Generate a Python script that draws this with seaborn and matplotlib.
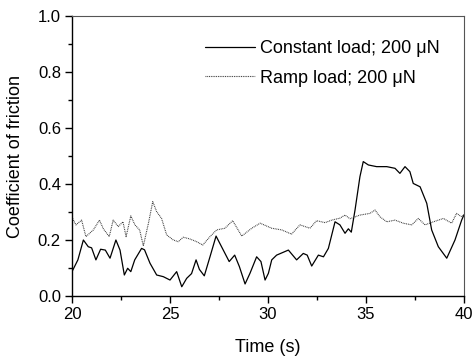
import matplotlib
matplotlib.use("Agg")
import matplotlib.pyplot as plt
from matplotlib.ticker import MultipleLocator
import seaborn as sns
import pandas as pd

# Constant load; 200 uN (solid)
t_const = [20.0, 20.3, 20.58, 20.83, 21.0, 21.22, 21.46, 21.7, 21.94, 22.24, 22.45, 22.67,
           22.84, 23.0, 23.2, 23.55, 23.7, 23.98, 24.32, 24.66, 25.0, 25.34, 25.6, 25.85,
           26.1, 26.33, 26.5, 26.75, 27.04, 27.35, 27.63, 28.02, 28.3, 28.54, 28.83, 29.08,
           29.42, 29.64, 29.85, 30.02, 30.19, 30.44, 31.04, 31.46, 31.8, 32.0, 32.23, 32.57,
           32.83, 33.08, 33.42, 33.67, 33.93, 34.1, 34.25, 34.44, 34.69, 34.86, 35.12, 35.54,
           36.06, 36.48, 36.73, 36.99, 37.24, 37.41, 37.76, 38.1, 38.35, 38.69, 39.12, 39.54,
           39.88, 40.0]
v_const = [0.087, 0.129, 0.200, 0.176, 0.172, 0.129, 0.167, 0.164, 0.135, 0.200, 0.164, 0.075,
           0.099, 0.087, 0.129, 0.170, 0.165, 0.117, 0.075, 0.069, 0.057, 0.087, 0.033, 0.063,
           0.080, 0.129, 0.095, 0.072, 0.140, 0.214, 0.176, 0.123, 0.146, 0.105, 0.043, 0.081,
           0.140, 0.123, 0.057, 0.081, 0.129, 0.146, 0.164, 0.129, 0.152, 0.146, 0.107, 0.146,
           0.140, 0.170, 0.265, 0.254, 0.224, 0.240, 0.228, 0.307, 0.426, 0.480, 0.468, 0.462,
           0.462, 0.456, 0.438, 0.462, 0.444, 0.402, 0.390, 0.331, 0.236, 0.176, 0.135, 0.200,
           0.271, 0.290]

# Ramp load; 200 uN (dotted)
t_ramp = [20.03, 20.2, 20.49, 20.71, 21.09, 21.4, 21.6, 21.9, 22.1, 22.36, 22.6, 22.76,
          23.0, 23.21, 23.45, 23.64, 23.9, 24.12, 24.32, 24.57, 24.83, 25.17, 25.42, 25.68,
          26.0, 26.36, 26.67, 27.04, 27.38, 27.8, 28.2, 28.66, 29.17, 29.6, 30.19, 30.7,
          31.2, 31.63, 32.14, 32.48, 32.91, 33.25, 33.67, 33.93, 34.18, 34.69, 35.2, 35.46,
          35.71, 36.06, 36.48, 36.9, 37.33, 37.67, 38.01, 38.44, 38.95, 39.37, 39.62, 39.88, 40.0]
v_ramp = [0.277, 0.254, 0.271, 0.212, 0.236, 0.271, 0.240, 0.212, 0.271, 0.248, 0.265, 0.212,
          0.286, 0.254, 0.236, 0.179, 0.260, 0.337, 0.301, 0.277, 0.218, 0.200, 0.194, 0.210,
          0.204, 0.194, 0.182, 0.212, 0.236, 0.242, 0.269, 0.214, 0.242, 0.260, 0.242, 0.236,
          0.221, 0.254, 0.242, 0.269, 0.262, 0.271, 0.278, 0.289, 0.276, 0.289, 0.295, 0.307,
          0.283, 0.265, 0.271, 0.260, 0.254, 0.277, 0.254, 0.265, 0.277, 0.260, 0.295, 0.283, 0.290]

labels = ["Constant load; 200 \u03bcN", "Ramp load; 200 \u03bcN"]
x_ticks = [20, 25, 30, 35, 40]
y_ticks = [0.0, 0.2, 0.4, 0.6, 0.8, 1.0]

sns.set_style("ticks")
plt.rcParams['font.family'] = ['Liberation Sans', 'DejaVu Sans']
plt.rcParams['text.color'] = 'black'
plt.rcParams['axes.labelcolor'] = 'black'
plt.rcParams['xtick.color'] = 'black'
plt.rcParams['ytick.color'] = 'black'

df = pd.concat([
    pd.DataFrame({"Time": t_const, "COF": v_const, "Series": labels[0]}),
    pd.DataFrame({"Time": t_ramp, "COF": v_ramp, "Series": labels[1]}),
])

fig = plt.figure(figsize=(4.74, 3.6), dpi=100)
ax = fig.add_axes([72/474, 1 - 296/360, (464 - 72)/474, (296 - 16)/360])

sns.lineplot(data=df, x="Time", y="COF", hue="Series", style="Series",
             palette=["black", "#333333"], dashes=[(None, None), (1, 1)],
             linewidth=0.9, ax=ax, legend=True)
ax.lines[1].set_linestyle((0, (0.8, 0.8)))
ax.lines[1].set_linewidth(0.8)

ax.set_xlim(20, 40)
ax.set_ylim(0, 1.0)
ax.set_xticks(x_ticks)
ax.set_yticks(y_ticks)
ax.set_xticklabels([str(v) for v in x_ticks])
ax.set_yticklabels([f"{v:.1f}" for v in y_ticks])
ax.xaxis.set_minor_locator(MultipleLocator(2.5))
ax.yaxis.set_minor_locator(MultipleLocator(0.1))
ax.tick_params(which="major", direction="out", length=5, width=1, labelsize=12, pad=3,
               colors="black")
ax.tick_params(which="minor", direction="out", length=3, width=1, colors="black")
ax.tick_params(top=False, right=False, which="both")
for s in ["left", "bottom"]:
    ax.spines[s].set_linewidth(1.0)
    ax.spines[s].set_color("black")
for s in ["top", "right"]:
    ax.spines[s].set_linewidth(0.8)
    ax.spines[s].set_color("#555555")

ax.set_xlabel("Time (s)", fontsize=13, labelpad=12, color="black")
ax.set_ylabel("Coefficient of friction", fontsize=13, labelpad=10, color="black")

old = ax.get_legend()
if old is not None:
    old.remove()
leg = ax.legend(handles=ax.lines[:2], labels=labels, loc="upper left",
                bbox_to_anchor=((205 - 72) / 392, (296 - 40) / 280),
                frameon=False, fontsize=13, handlelength=2.75, handletextpad=0.3,
                labelspacing=0.7, borderpad=0, borderaxespad=0)
for t in leg.get_texts():
    t.set_color("black")

fig.savefig("out.png", dpi=100)
